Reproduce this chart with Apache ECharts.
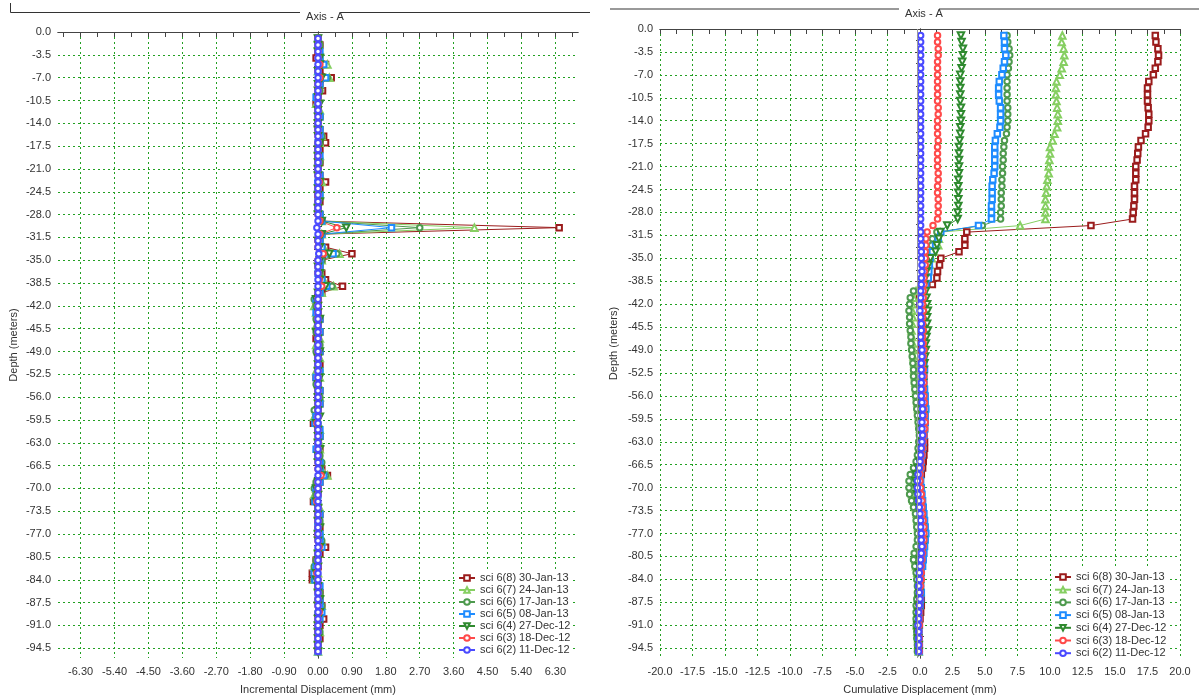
<!DOCTYPE html>
<html>
<head>
<meta charset="utf-8">
<title>Axis - A</title>
<script src="https://cdn.jsdelivr.net/npm/echarts@6/dist/echarts.min.js"></script>
<style>
  html, body { margin: 0; padding: 0; background: #fff; }
  #main { width: 1199px; height: 700px; }
</style>
</head>
<body>
<div id="main"></div>
<script>
// depth of each reading (m)
const depths = [
  -1, -2, -3, -4, -5, -6, -7, -8, -9, -10,
  -11, -12, -13, -14, -15, -16, -17, -18, -19, -20,
  -21, -22, -23, -24, -25, -26, -27, -28, -29, -30,
  -31, -32, -33, -34, -35, -36, -37, -38, -39, -40,
  -41, -42, -43, -44, -45, -46, -47, -48, -49, -50,
  -51, -52, -53, -54, -55, -56, -57, -58, -59, -60,
  -61, -62, -63, -64, -65, -66, -67, -68, -69, -70,
  -71, -72, -73, -74, -75, -76, -77, -78, -79, -80,
  -81, -82, -83, -84, -85, -86, -87, -88, -89, -90,
  -91, -92, -93, -94, -95
];

// tick labels
const depthTicks = [0, -3.5, -7, -10.5, -14, -17.5, -21, -24.5, -28, -31.5, -35, -38.5, -42, -45.5,
  -49, -52.5, -56, -59.5, -63, -66.5, -70, -73.5, -77, -80.5, -84, -87.5, -91, -94.5];
const incTicks = [-6.3, -5.4, -4.5, -3.6, -2.7, -1.8, -0.9, 0, 0.9, 1.8, 2.7, 3.6, 4.5, 5.4, 6.3];
const incMinor = [-6.75, -6.3, -5.85, -5.4, -4.95, -4.5, -4.05, -3.6, -3.15, -2.7, -2.25, -1.8, -1.35, -0.9, -0.45, 0,
  0.45, 0.9, 1.35, 1.8, 2.25, 2.7, 3.15, 3.6, 4.05, 4.5, 4.95, 5.4, 5.85, 6.3, 6.75];
const cumTicks = [-20, -17.5, -15, -12.5, -10, -7.5, -5, -2.5, 0, 2.5, 5, 7.5, 10, 12.5, 15, 17.5, 20];
const cumMinor = [-20, -18.75, -17.5, -16.25, -15, -13.75, -12.5, -11.25, -10, -8.75, -7.5, -6.25, -5, -3.75, -2.5, -1.25, 0,
  1.25, 2.5, 3.75, 5, 6.25, 7.5, 8.75, 10, 11.25, 12.5, 13.75, 15, 16.25, 17.5, 18.75, 20];

const names = ['sci 6(8) 30-Jan-13', 'sci 6(7) 24-Jan-13', 'sci 6(6) 17-Jan-13', 'sci 6(5) 08-Jan-13',
  'sci 6(4) 27-Dec-12', 'sci 6(3) 18-Dec-12', 'sci 6(2) 11-Dec-12'];

// incremental displacement (mm)
const inc8 = [
  0, 0.05, 0, -0.05, 0.2, 0.05, 0.35, 0.05, 0.12, 0,
  -0.05, 0, 0.05, 0, 0.05, 0.15, 0.2, 0.05, 0, 0.05,
  0, 0.05, 0.2, 0.05, 0, 0.05, 0, 0.05, 0.1, 6.4,
  0.1, 0.05, 0.2, 0.9, 0.1, 0.05, 0.1, 0.2, 0.65, 0.1,
  0, -0.05, 0, 0.05, 0, 0.05, -0.05, 0, 0.05, 0,
  0.05, 0, -0.05, 0, 0.05, 0, 0.05, 0, -0.05, -0.12,
  0, 0.05, 0, 0.05, 0, 0.05, 0.1, 0.25, 0.05, 0,
  -0.05, -0.12, 0, 0.05, 0, 0.05, 0, 0.05, 0.2, 0.05,
  -0.05, 0, -0.15, -0.15, 0, 0.05, 0.05, 0.1, 0.05, 0.15,
  0.05, 0, 0.05, 0, 0
];
const inc7 = [
  0, 0, 0.05, 0.05, 0.25, 0, 0.3, 0.05, 0, 0,
  -0.05, 0.05, 0, 0, 0.05, 0.1, 0.05, 0, 0.05, 0,
  0, 0.05, 0.1, 0, 0.05, 0, 0, 0.05, 0.1, 4.15,
  0.1, 0.05, 0.15, 0.57, 0.1, 0.05, 0.05, 0.15, 0.41, 0.1,
  -0.05, -0.1, -0.05, 0, -0.05, 0, 0.05, -0.05, 0, 0.05,
  0, -0.05, 0.05, 0, 0, 0.05, 0, -0.05, -0.1, 0,
  0.05, 0, 0.05, 0.05, 0, 0.05, 0.1, 0.25, -0.05, -0.05,
  -0.1, 0, 0.05, 0, 0.05, 0, 0.05, 0.1, 0, 0,
  -0.05, -0.1, 0, -0.1, 0, 0.05, 0, 0.1, 0.05, 0,
  0, 0.05, 0, 0, 0
];
const inc6 = [
  0, 0.05, 0, 0.05, 0.15, 0, 0.25, 0, 0.05, 0,
  0, 0, 0.05, 0, 0, 0.1, 0.05, 0, 0, 0.05,
  0, 0, 0.05, 0, 0.05, 0, 0, 0.05, 0.1, 2.7,
  0.1, 0, 0.1, 0.5, 0.1, 0, 0.05, 0.1, 0.37, 0.05,
  -0.1, -0.05, 0, -0.05, 0, -0.05, 0, 0.05, -0.05, 0,
  0, 0.05, 0, -0.05, 0, 0.05, 0, -0.1, -0.05, 0,
  0, 0.05, 0, 0, 0.05, 0.1, 0.05, 0.2, -0.05, -0.1,
  -0.05, -0.1, 0, 0, 0.05, 0, 0.05, 0.1, 0.05, 0,
  -0.05, -0.1, -0.05, -0.1, 0, 0.05, 0, 0.1, 0, 0,
  0, 0.05, 0, 0, 0
];
const inc5 = [
  0, 0, 0.05, 0.05, 0.15, 0, 0.2, 0.05, 0, -0.05,
  0, 0, 0.05, 0, 0.05, 0.05, 0, 0, 0.05, 0,
  0, 0.05, 0, 0, 0.05, 0, 0, 0.05, 0.1, 1.95,
  0.1, 0.05, 0.1, 0.4, 0.05, 0.05, 0, 0.1, 0.23, 0.05,
  -0.05, 0, -0.05, 0.05, 0, 0.05, 0, 0, 0.05, 0,
  0, 0.05, -0.05, 0, 0.05, 0, 0.05, 0, -0.05, -0.08,
  0.05, 0.05, 0, -0.05, 0, 0.05, 0.05, 0.15, 0.05, -0.05,
  0, -0.08, 0, 0.05, 0, 0, 0.05, 0.05, 0.1, 0,
  0, -0.05, -0.1, -0.08, 0.05, 0, 0.05, 0.05, 0.1, 0.05,
  0, 0, 0, 0, 0
];
const inc4 = [
  0, 0, 0, 0.05, 0.05, 0, 0.1, 0, 0, 0,
  0.05, 0, 0, 0, 0, 0, 0.05, 0, 0, 0,
  0, 0, 0.05, 0, 0, 0.05, 0, 0, 0.1, 0.75,
  0.1, 0, 0.05, 0.3, 0.05, 0, 0.05, 0.05, 0.2, 0,
  -0.05, 0, 0, 0.05, 0, -0.05, 0, 0, 0.05, 0,
  0, 0, 0.05, 0, 0, 0, 0, 0, 0.05, -0.05,
  0, 0, 0, 0.05, 0, 0, 0.05, 0.1, 0, -0.05,
  0, -0.05, 0, 0, 0, 0.05, 0, 0, 0.05, 0,
  0, 0, -0.05, -0.05, 0, 0, 0.05, 0, 0.05, 0,
  0, 0, 0, 0, 0
];
const inc3 = [
  0, 0, 0, 0, 0.05, 0, 0.05, 0, 0, 0,
  0, 0, 0, 0, 0, 0, 0, 0, 0, 0,
  0, 0, 0.03, 0, 0, 0, 0, 0, 0.05, 0.5,
  0.05, 0, 0, 0.14, 0, 0, 0, 0.03, 0.1, 0,
  0, 0, 0, 0, 0, 0, 0, 0, 0, 0,
  0, 0, 0, 0, 0, 0, 0, 0, 0, -0.03,
  0, 0, 0, 0, 0, 0, 0, 0.08, 0, 0,
  0, -0.03, 0, 0, 0, 0, 0, 0, 0.03, 0,
  0, 0, -0.03, 0, 0, 0, 0, 0, 0.03, 0,
  0, 0, 0, 0, 0
];
const inc2 = [
  0, 0, 0, 0, 0, 0, 0, 0, 0, 0,
  0, 0, 0, 0, 0, 0, 0, 0, 0, 0,
  0, 0, 0, 0, 0, 0, 0, 0, 0, -0.03,
  0, 0, 0, 0.02, 0, 0, 0, 0, 0, 0,
  0, 0, 0, 0, 0, 0, 0, 0, 0, 0,
  0, 0, 0, 0, 0, 0, 0, 0, 0, 0,
  0, 0, 0, 0, 0, 0, 0, 0, 0, 0,
  0, 0, 0, 0, 0, 0, 0, 0, 0, 0,
  0, 0, 0, 0, 0, 0, 0, 0, 0, 0,
  0, 0, 0, 0, 0
];

// cumulative displacement (mm)
const cum8 = [
  18.1, 18.15, 18.3, 18.35, 18.3, 18.1, 17.95, 17.6, 17.5, 17.5,
  17.5, 17.55, 17.6, 17.6, 17.55, 17.35, 17.0, 16.8, 16.75, 16.7,
  16.6, 16.6, 16.6, 16.5, 16.5, 16.5, 16.45, 16.4, 16.35, 13.15,
  3.6, 3.45, 3.45, 3.0, 1.6, 1.5, 1.35, 1.3, 0.95, 0.0,
  -0.05, 0.0, 0.05, 0.1, 0.05, 0.1, 0.15, 0.1, 0.15, 0.2,
  0.15, 0.2, 0.2, 0.25, 0.2, 0.25, 0.3, 0.35, 0.35, 0.4,
  0.35, 0.3, 0.35, 0.35, 0.3, 0.25, 0.2, 0.1, 0.0, -0.1,
  -0.1, -0.05, 0.05, 0.1, 0.1, 0.1, 0.15, 0.2, 0.15, 0.1,
  0.05, 0.0, -0.05, -0.1, 0.0, 0.05, 0.1, 0.1, 0.05, 0.0,
  -0.05, -0.1, -0.1, -0.1, -0.1
];
const cum7 = [
  10.95, 10.9, 11.05, 11.1, 11.05, 10.9, 10.75, 10.5, 10.45, 10.45,
  10.5, 10.55, 10.6, 10.6, 10.55, 10.35, 10.2, 10.0, 10.0, 9.95,
  9.9, 9.9, 9.8, 9.75, 9.7, 9.65, 9.65, 9.65, 9.65, 7.7,
  1.55, 1.45, 1.4, 1.05, 0.9, 0.75, 0.6, 0.45, 0.3, -0.3,
  -0.5, -0.6, -0.6, -0.55, -0.6, -0.65, -0.6, -0.55, -0.5, -0.5,
  -0.45, -0.45, -0.4, -0.35, -0.3, -0.25, -0.2, -0.15, -0.1, -0.05,
  0.0, 0.05, 0.0, 0.0, -0.05, -0.1, -0.2, -0.35, -0.55, -0.65,
  -0.6, -0.5, -0.35, -0.25, -0.2, -0.15, -0.1, -0.1, -0.15, -0.25,
  -0.35, -0.3, -0.2, -0.1, -0.05, 0.0, -0.05, -0.1, -0.15, -0.2,
  -0.25, -0.2, -0.15, -0.15, -0.1
];
const cum6 = [
  6.7, 6.75, 6.85, 6.9, 6.85, 6.8, 6.7, 6.7, 6.7, 6.7,
  6.7, 6.75, 6.75, 6.75, 6.7, 6.65, 6.5, 6.45, 6.4, 6.4,
  6.35, 6.35, 6.3, 6.3, 6.25, 6.25, 6.25, 6.2, 6.2, 4.8,
  1.3, 0.95, 0.9, 0.85, 0.5, 0.3, 0.2, 0.15, 0.1, -0.5,
  -0.75, -0.8, -0.85, -0.8, -0.8, -0.75, -0.7, -0.7, -0.65, -0.6,
  -0.55, -0.5, -0.5, -0.45, -0.4, -0.35, -0.3, -0.25, -0.2, -0.15,
  -0.1, -0.05, -0.1, -0.15, -0.2, -0.3, -0.5, -0.75, -0.85, -0.85,
  -0.8, -0.65, -0.5, -0.35, -0.3, -0.25, -0.2, -0.2, -0.3, -0.45,
  -0.5, -0.4, -0.3, -0.25, -0.2, -0.2, -0.25, -0.3, -0.3, -0.3,
  -0.3, -0.25, -0.25, -0.2, -0.2
];
const cum5 = [
  6.45, 6.5, 6.5, 6.6, 6.5, 6.4, 6.3, 6.1, 6.05, 6.05,
  6.1, 6.2, 6.2, 6.2, 6.15, 5.95, 5.8, 5.75, 5.75, 5.75,
  5.75, 5.7, 5.6, 5.55, 5.55, 5.55, 5.5, 5.5, 5.5, 4.5,
  1.6, 1.4, 1.2, 0.95, 0.78, 0.72, 0.68, 0.64, 0.45, 0.3,
  0.25, 0.2, 0.15, 0.2, 0.25, 0.2, 0.25, 0.3, 0.25, 0.3,
  0.3, 0.35, 0.3, 0.3, 0.35, 0.4, 0.4, 0.45, 0.4, 0.4,
  0.35, 0.3, 0.25, 0.2, 0.15, 0.1, 0.05, 0.0, 0.05, 0.1,
  0.15, 0.2, 0.25, 0.3, 0.35, 0.4, 0.45, 0.4, 0.35, 0.3,
  0.25, 0.2, 0.1, 0.05, 0.05, 0.1, 0.05, 0.0, -0.05, -0.1,
  -0.1, -0.1, -0.1, -0.05, -0.05
];
const cum4 = [
  3.15, 3.2, 3.3, 3.3, 3.25, 3.2, 3.1, 3.1, 3.1, 3.1,
  3.1, 3.15, 3.15, 3.15, 3.1, 3.1, 3.05, 3.0, 3.0, 3.0,
  3.0, 3.0, 2.95, 2.95, 2.95, 2.95, 2.95, 2.9, 2.9, 2.1,
  1.55, 1.45, 1.3, 1.2, 0.8, 0.65, 0.5, 0.4, 0.35, 0.45,
  0.5, 0.55, 0.6, 0.55, 0.55, 0.6, 0.5, 0.45, 0.45, 0.4,
  0.35, 0.3, 0.25, 0.25, 0.2, 0.15, 0.15, 0.2, 0.25, 0.2,
  0.15, 0.15, 0.1, 0.05, 0.0, -0.05, -0.15, -0.3, -0.35, -0.3,
  -0.25, -0.15, -0.05, 0.05, 0.1, 0.15, 0.2, 0.25, 0.2, 0.1,
  0.0, -0.05, -0.1, -0.05, 0.0, -0.05, -0.1, -0.15, -0.15, -0.15,
  -0.2, -0.2, -0.15, -0.1, -0.1
];
const cum3 = [
  1.35, 1.35, 1.4, 1.4, 1.35, 1.35, 1.35, 1.35, 1.35, 1.35,
  1.35, 1.4, 1.4, 1.35, 1.35, 1.35, 1.4, 1.35, 1.35, 1.35,
  1.35, 1.4, 1.4, 1.35, 1.35, 1.4, 1.4, 1.4, 1.35, 1.0,
  0.55, 0.45, 0.45, 0.4, 0.4, 0.4, 0.35, 0.3, 0.3, 0.25,
  0.25, 0.2, 0.25, 0.2, 0.2, 0.25, 0.2, 0.25, 0.3, 0.25,
  0.2, 0.25, 0.3, 0.3, 0.25, 0.3, 0.35, 0.3, 0.35, 0.4,
  0.35, 0.3, 0.25, 0.2, 0.15, 0.1, 0.05, 0.0, 0.0, 0.05,
  0.1, 0.15, 0.15, 0.2, 0.25, 0.3, 0.3, 0.3, 0.25, 0.2,
  0.15, 0.1, 0.1, 0.1, 0.05, 0.0, 0.0, -0.05, -0.05, -0.05,
  -0.05, -0.1, -0.05, -0.05, -0.05
];
const cum2 = [
  0.05, 0.05, 0.05, 0.05, 0.05, 0.05, 0.05, 0.05, 0.05, 0.05,
  0.05, 0.05, 0.05, 0.05, 0.05, 0.05, 0.05, 0.05, 0.05, 0.05,
  0.05, 0.05, 0.05, 0.05, 0.05, 0.05, 0.05, 0.05, 0.05, 0.05,
  0.05, 0.05, 0.1, 0.1, 0.1, 0.15, 0.15, 0.1, 0.1, 0.05,
  0.05, 0.0, 0.0, 0.05, 0.1, 0.1, 0.05, 0.1, 0.15, 0.15,
  0.1, 0.1, 0.15, 0.1, 0.1, 0.1, 0.15, 0.2, 0.2, 0.15,
  0.15, 0.2, 0.15, 0.1, 0.05, 0.0, -0.05, -0.15, -0.2, -0.2,
  -0.15, -0.1, -0.05, 0.0, 0.05, 0.05, 0.1, 0.1, 0.15, 0.1,
  0.05, 0.0, -0.05, -0.05, -0.1, -0.05, 0.0, -0.05, -0.1, -0.1,
  -0.15, -0.1, -0.1, -0.1, -0.1
];

const styles = [
  { color: '#9b1c1c', symbol: 'emptyRect', size: 5.5, rotate: 0 },
  { color: '#86cf62', symbol: 'emptyTriangle', size: 6.5, rotate: 0 },
  { color: '#4e9a4e', symbol: 'emptyCircle', size: 5.5, rotate: 0 },
  { color: '#1e8cff', symbol: 'emptyRect', size: 5.5, rotate: 0 },
  { color: '#2f8a2f', symbol: 'emptyTriangle', size: 6.5, rotate: 180 },
  { color: '#ff4a4a', symbol: 'emptyCircle', size: 5.5, rotate: 0 },
  { color: '#4a4aff', symbol: 'emptyCircle', size: 5.5, rotate: 0 }
];
const incData = [inc8, inc7, inc6, inc5, inc4, inc3, inc2];
const cumData = [cum8, cum7, cum6, cum5, cum4, cum3, cum2];

const font = '"Liberation Sans", Arial, sans-serif';
const gridLine = { show: true, lineStyle: { color: '#22a022', width: 1, type: [2, 3] } };
const axisCol = '#444';
const depthMinor = depthTicks.map(v => v - 1.75).filter(v => v > -96);
const depthAll = depthTicks.concat(depthMinor);

function xAxes(grid, min, max, ticks, minor, digits, name) {
  return [
    {
      gridIndex: grid, type: 'value', min: min, max: max, position: 'bottom',
      name: name, nameLocation: 'middle', nameGap: 26,
      nameTextStyle: { fontSize: 11, color: '#333', fontFamily: font },
      axisLine: { show: true, lineStyle: { color: axisCol } },
      axisTick: { show: true, customValues: ticks, length: 5, lineStyle: { color: axisCol } },
      axisLabel: { customValues: ticks, formatter: v => v.toFixed(digits), fontSize: 11, color: '#333', fontFamily: font, margin: 8 },
      splitLine: gridLine
    },
    {
      gridIndex: grid, type: 'value', min: min, max: max, position: 'bottom',
      axisLine: { show: false },
      axisTick: { show: true, customValues: minor, length: 5, lineStyle: { color: axisCol } },
      axisLabel: { show: false }, splitLine: { show: false }
    },
    {
      gridIndex: grid, type: 'value', min: min, max: max, position: 'top',
      axisLine: { show: true, lineStyle: { color: axisCol } },
      axisTick: { show: true, inside: true, customValues: minor, length: 4, lineStyle: { color: axisCol } },
      axisLabel: { show: false }, splitLine: { show: false }
    }
  ];
}

function yAxes(grid, nameGap) {
  return [
    {
      gridIndex: grid, type: 'value', min: -96, max: 0, position: 'left',
      name: 'Depth (meters)', nameLocation: 'middle', nameGap: nameGap,
      nameTextStyle: { fontSize: 11, color: '#333', fontFamily: font },
      axisLine: { show: true, lineStyle: { color: axisCol } },
      axisTick: { show: true, customValues: depthTicks, length: 5, lineStyle: { color: axisCol } },
      axisLabel: { customValues: depthTicks, formatter: v => v.toFixed(1), fontSize: 11, color: '#333', fontFamily: font, margin: 7 },
      splitLine: gridLine
    },
    {
      gridIndex: grid, type: 'value', min: -96, max: 0, position: 'left',
      axisLine: { show: false },
      axisTick: { show: true, inside: true, customValues: depthMinor, length: 4, lineStyle: { color: axisCol } },
      axisLabel: { show: false }, splitLine: { show: false }
    },
    {
      gridIndex: grid, type: 'value', min: -96, max: 0, position: 'right',
      axisLine: { show: true, lineStyle: { color: axisCol } },
      axisTick: { show: true, inside: true, customValues: depthAll, length: 4, lineStyle: { color: axisCol } },
      axisLabel: { show: false }, splitLine: { show: false }
    }
  ];
}

function makeSeries(vals, i, xi, yi) {
  const s = styles[i];
  return {
    type: 'line', name: names[i], xAxisIndex: xi, yAxisIndex: yi,
    data: vals.map((v, k) => [v, depths[k]]),
    symbol: s.symbol, symbolSize: s.size, symbolRotate: s.rotate, showSymbol: true,
    lineStyle: { color: s.color, width: 1 },
    itemStyle: { color: s.color, borderColor: s.color, borderWidth: 1 },
    emphasis: { disabled: true }
  };
}

const series = [];
incData.forEach((vals, i) => series.push(makeSeries(vals, i, 0, 0)));
cumData.forEach((vals, i) => series.push(makeSeries(vals, i, 3, 3)));
// thin grey zero line on the cumulative plot
series[7].markLine = {
  silent: true, symbol: 'none', label: { show: false },
  lineStyle: { color: '#9a9a9a', type: 'solid', width: 1 },
  data: [{ xAxis: -0.2 }]
};

const legendBase = {
  data: names, orient: 'vertical', itemWidth: 16, itemHeight: 7, padding: 2,
  backgroundColor: '#fff',
  textStyle: { fontSize: 11, color: '#333', fontFamily: font, lineHeight: 12 },
  selectedMode: false
};

const chart = echarts.init(document.getElementById('main'));
chart.setOption({
  animation: false,
  backgroundColor: '#fff',
  textStyle: { fontFamily: font },
  title: [
    { text: 'Axis - A', left: 320, top: 6, textAlign: 'center', textStyle: { fontSize: 11, fontWeight: 'normal', color: '#333', fontFamily: font } },
    { text: 'Axis - A', left: 919, top: 3, textAlign: 'center', textStyle: { fontSize: 11, fontWeight: 'normal', color: '#333', fontFamily: font } }
  ],
  graphic: [
    { type: 'polyline', shape: { points: [[10.5, 3], [10.5, 12.5], [300, 12.5]] }, style: { stroke: '#333', lineWidth: 1, fill: null } },
    { type: 'line', shape: { x1: 341, y1: 12.5, x2: 590, y2: 12.5 }, style: { stroke: '#333', lineWidth: 1 } },
    { type: 'line', shape: { x1: 610, y1: 9, x2: 899, y2: 9 }, style: { stroke: '#999', lineWidth: 2 } },
    { type: 'line', shape: { x1: 939, y1: 9, x2: 1199, y2: 9 }, style: { stroke: '#999', lineWidth: 2 } }
  ],
  grid: [
    { left: 58, top: 32, width: 520, height: 633 },
    { left: 660, top: 29, width: 520, height: 633 }
  ],
  legend: [
    Object.assign({ left: 456, top: 570, itemGap: 0 }, legendBase),
    Object.assign({ left: 1052, top: 569, itemGap: 0.7 }, legendBase)
  ],
  xAxis: xAxes(0, -6.9, 6.9, incTicks, incMinor, 2, 'Incremental Displacement (mm)')
    .concat(xAxes(1, -20, 20, cumTicks, cumMinor, 1, 'Cumulative Displacement (mm)')),
  yAxis: yAxes(0, 39).concat(yAxes(1, 41)),
  series: series
});
</script>
</body>
</html>
